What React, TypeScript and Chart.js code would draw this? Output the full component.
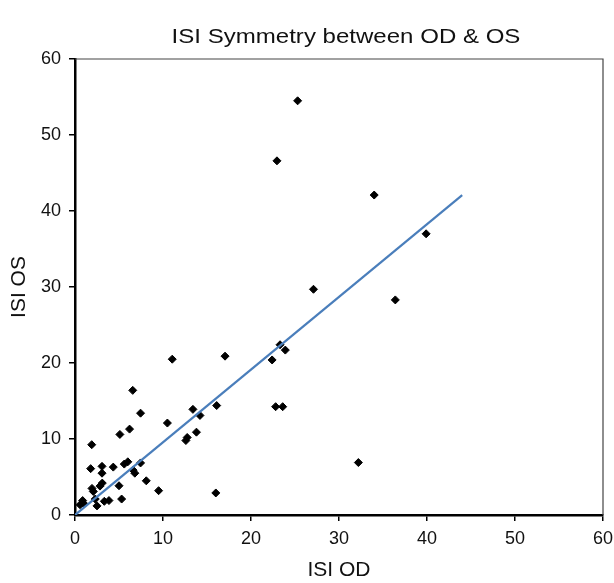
import React, { useEffect, useRef } from "react";
import { Chart, registerables } from "chart.js";

Chart.register(...registerables);

const chartTitle = "ISI Symmetry between OD & OS";
const xAxisTitle = "ISI OD";
const yAxisTitle = "ISI OS";

const odValues = [
  0.57, 0.87, 1.0, 1.78, 1.9, 1.93, 2.08, 2.3, 2.5, 2.84, 3.07, 3.07, 3.1, 3.33, 3.86,
  4.35, 5.0, 5.1, 5.3, 5.6, 6.0, 6.2, 6.56, 6.6, 6.8, 7.45, 7.45, 8.1, 9.5, 10.5,
  11.05, 12.6, 12.75, 13.4, 13.8, 14.2, 16.0, 16.1, 17.05, 22.4, 22.8, 22.95, 23.3,
  23.6, 23.9, 25.3, 27.1, 32.2, 34.0, 36.4, 39.9,
];
const osValues = [
  1.35, 1.9, 1.5, 6.1, 9.25, 3.5, 3.1, 2.1, 1.2, 3.8, 6.4, 5.5, 4.2, 1.8, 1.9,
  6.3, 3.85, 10.6, 2.1, 6.7, 7.0, 11.3, 16.4, 5.9, 5.5, 13.4, 6.85, 4.5, 3.2, 12.1,
  20.5, 9.8, 10.2, 13.9, 10.9, 13.1, 2.9, 14.4, 20.9, 20.4, 14.25, 46.6, 22.4,
  14.25, 21.7, 54.5, 29.7, 6.9, 42.1, 28.3, 37.0,
];

const trendX = [0, 44];
const trendY = [0, 42.1];

const axisMin = 0;
const axisMax = 60;
const tickStep = 10;

const FONT = "'Liberation Sans', Arial, Helvetica, sans-serif";

const frameBorder = {
  id: "frameBorder",
  afterDraw(chart: any) {
    const { ctx, chartArea } = chart;
    ctx.save();
    ctx.strokeStyle = "#444444";
    ctx.lineWidth = 1.2;
    ctx.beginPath();
    ctx.moveTo(chartArea.left, chartArea.top);
    ctx.lineTo(chartArea.right, chartArea.top);
    ctx.lineTo(chartArea.right, chartArea.bottom);
    ctx.stroke();
    ctx.restore();
  },
};

const wideTitle = {
  id: "wideTitle",
  afterDraw(chart: any) {
    const { ctx } = chart;
    ctx.save();
    ctx.fillStyle = "#111111";
    ctx.font = `21px ${FONT}`;
    ctx.textAlign = "center";
    ctx.textBaseline = "alphabetic";
    ctx.translate(346, 43);
    ctx.scale(1.145, 1);
    ctx.fillText(chartTitle, 0, 0);
    ctx.restore();
  },
};

export default function App() {
  const canvasRef = useRef<HTMLCanvasElement | null>(null);

  useEffect(() => {
    if (!canvasRef.current) return;
    const points = odValues.map((x, i) => ({ x, y: osValues[i] }));
    const trend = trendX.map((x, i) => ({ x, y: trendY[i] }));
    const chart = new Chart(canvasRef.current, {
      type: "scatter",
      data: {
        datasets: [
          {
            type: "line",
            label: "Trend",
            data: trend,
            borderColor: "#4a7ebb",
            borderWidth: 2.2,
            pointRadius: 0,
            fill: false,
          } as any,
          {
            label: "ISI",
            data: points,
            pointStyle: "rectRot",
            pointRadius: 4,
            pointBorderWidth: 1,
            backgroundColor: "#000000",
            borderColor: "#000000",
          },
        ],
      },
      options: {
        responsive: true,
        maintainAspectRatio: false,
        animation: false,
        layout: { padding: { left: 0, right: 11, top: 59, bottom: 0 } },
        plugins: {
          legend: { display: false },
          tooltip: { enabled: false },
          title: { display: false },
        },
        scales: {
          x: {
            type: "linear",
            min: axisMin,
            max: axisMax,
            ticks: {
              stepSize: tickStep,
              color: "#111111",
              font: { family: FONT, size: 18 },
              padding: 7,
              maxRotation: 0,
            },
            grid: {
              drawOnChartArea: false,
              drawTicks: true,
              tickLength: 6,
              color: "#000000",
              lineWidth: 1.5,
            },
            border: { display: true, color: "#000000", width: 2.5 },
            title: {
              display: true,
              text: xAxisTitle,
              color: "#111111",
              font: { family: FONT, size: 21 },
              padding: { top: 0, bottom: 0 },
            },
            afterFit(scale: any) {
              scale.height = 68;
              scale.paddingLeft = 0;
              scale.paddingRight = 0;
            },
          },
          y: {
            type: "linear",
            min: axisMin,
            max: axisMax,
            ticks: {
              stepSize: tickStep,
              color: "#111111",
              font: { family: FONT, size: 18 },
              padding: 8,
            },
            grid: {
              drawOnChartArea: false,
              drawTicks: true,
              tickLength: 6,
              color: "#000000",
              lineWidth: 1.5,
            },
            border: { display: true, color: "#000000", width: 2.5 },
            title: {
              display: true,
              text: yAxisTitle,
              color: "#111111",
              font: { family: FONT, size: 21 },
              padding: { top: 7, bottom: 0 },
            },
            afterFit(scale: any) {
              scale.width = 75;
              scale.paddingTop = 0;
              scale.paddingBottom = 0;
            },
          },
        },
      },
      plugins: [frameBorder, wideTitle],
    });
    return () => chart.destroy();
  }, []);

  return (
    <div
      style={{
        position: "absolute",
        left: 0,
        top: 0,
        width: 614,
        height: 583,
        background: "#ffffff",
      }}
    >
      <canvas ref={canvasRef} />
    </div>
  );
}
